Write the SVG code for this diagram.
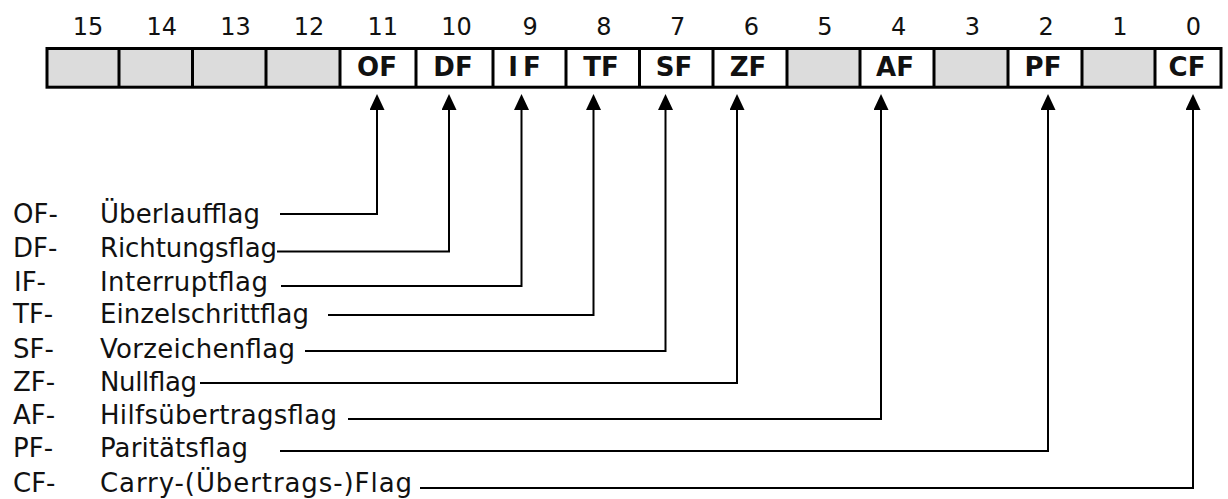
<svg xmlns="http://www.w3.org/2000/svg" width="1228" height="499" viewBox="0 0 1228 499">
<style>
.num{font-family:"DejaVu Sans",Verdana,sans-serif;font-size:24px;fill:#111;text-anchor:middle}
.flag{font-family:"DejaVu Sans",Verdana,sans-serif;font-size:26px;font-weight:bold;fill:#111;text-anchor:middle}
.pre{font-family:"DejaVu Sans",Verdana,sans-serif;font-size:26px;fill:#111}
.desc{font-family:"DejaVu Sans",Verdana,sans-serif;font-size:26px;fill:#111}
.res{fill:#dcdcdc}
.set{fill:#ffffff}
.div{stroke:#000;stroke-width:3}
.con{fill:none;stroke:#000;stroke-width:2}
</style>
<defs>
<marker id="ah" viewBox="0 0 16 15" refX="0" refY="7.5" markerWidth="16" markerHeight="15" markerUnits="userSpaceOnUse" orient="auto">
<path d="M0,0 L16,7.5 L0,15 z" fill="#000"/>
</marker>
</defs>
<rect width="1228" height="499" fill="#fff"/>
<g id="bitnumbers">
<text class="num" x="88" y="35">15</text>
<text class="num" x="161.7" y="35">14</text>
<text class="num" x="235.4" y="35">13</text>
<text class="num" x="309.1" y="35">12</text>
<text class="num" x="382.8" y="35">11</text>
<text class="num" x="456.5" y="35">10</text>
<text class="num" x="530.2" y="35">9</text>
<text class="num" x="603.9" y="35">8</text>
<text class="num" x="677.6" y="35">7</text>
<text class="num" x="751.3" y="35">6</text>
<text class="num" x="825" y="35">5</text>
<text class="num" x="898.7" y="35">4</text>
<text class="num" x="972.4" y="35">3</text>
<text class="num" x="1046.1" y="35">2</text>
<text class="num" x="1119.8" y="35">1</text>
<text class="num" x="1193.5" y="35">0</text>
</g>
<g id="register">
<g id="bit15"><rect class="res" x="47" y="48.5" width="72" height="38.7"/></g>
<g id="bit14"><rect class="res" x="119" y="48.5" width="73.5" height="38.7"/></g>
<g id="bit13"><rect class="res" x="192.5" y="48.5" width="73.5" height="38.7"/></g>
<g id="bit12"><rect class="res" x="266" y="48.5" width="74" height="38.7"/></g>
<g id="bit11"><rect class="set" x="340" y="48.5" width="76" height="38.7"/><text class="flag" x="377" y="75.5">OF</text></g>
<g id="bit10"><rect class="set" x="416" y="48.5" width="77" height="38.7"/><text class="flag" x="453" y="75.5">DF</text></g>
<g id="bit9"><rect class="set" x="493" y="48.5" width="73" height="38.7"/><text class="flag" x="527" y="75.5" style="letter-spacing:5px">IF</text></g>
<g id="bit8"><rect class="set" x="566" y="48.5" width="73.5" height="38.7"/><text class="flag" x="601" y="75.5">TF</text></g>
<g id="bit7"><rect class="set" x="639.5" y="48.5" width="73.5" height="38.7"/><text class="flag" x="674" y="75.5">SF</text></g>
<g id="bit6"><rect class="set" x="713" y="48.5" width="74" height="38.7"/><text class="flag" x="748" y="75.5">ZF</text></g>
<g id="bit5"><rect class="res" x="787" y="48.5" width="73" height="38.7"/></g>
<g id="bit4"><rect class="set" x="860" y="48.5" width="74" height="38.7"/><text class="flag" x="895" y="75.5">AF</text></g>
<g id="bit3"><rect class="res" x="934" y="48.5" width="74" height="38.7"/></g>
<g id="bit2"><rect class="set" x="1008" y="48.5" width="74" height="38.7"/><text class="flag" x="1043" y="75.5">PF</text></g>
<g id="bit1"><rect class="res" x="1082" y="48.5" width="73" height="38.7"/></g>
<g id="bit0"><rect class="set" x="1155" y="48.5" width="66" height="38.7"/><text class="flag" x="1187" y="75.5">CF</text></g>
<rect x="47" y="48.5" width="1174" height="38.7" fill="none" stroke="#000" stroke-width="3"/>
<path class="div" d="M119,48.5V87.2M192.5,48.5V87.2M266,48.5V87.2M340,48.5V87.2M416,48.5V87.2M493,48.5V87.2M566,48.5V87.2M639.5,48.5V87.2M713,48.5V87.2M787,48.5V87.2M860,48.5V87.2M934,48.5V87.2M1008,48.5V87.2M1082,48.5V87.2M1155,48.5V87.2"/>
</g>
<g id="connectors">
<polyline class="con" points="280,214 377,214 377,110" marker-end="url(#ah)"/>
<polyline class="con" points="277,251.5 449,251.5 449,110" marker-end="url(#ah)"/>
<polyline class="con" points="281,286 521.5,286 521.5,110" marker-end="url(#ah)"/>
<polyline class="con" points="328,315 593.5,315 593.5,110" marker-end="url(#ah)"/>
<polyline class="con" points="305,351 665.5,351 665.5,110" marker-end="url(#ah)"/>
<polyline class="con" points="200,383 737,383 737,110" marker-end="url(#ah)"/>
<polyline class="con" points="348,419 881,419 881,110" marker-end="url(#ah)"/>
<polyline class="con" points="280,451 1048,451 1048,110" marker-end="url(#ah)"/>
<polyline class="con" points="420,488 1193,488 1193,110" marker-end="url(#ah)"/>
</g>
<g id="legend">
<g id="leg-OF"><text class="pre" x="13" y="223">OF-</text><text class="desc" x="100" y="223" textLength="160">Überlaufflag</text></g>
<g id="leg-DF"><text class="pre" x="13" y="257">DF-</text><text class="desc" x="100" y="257" textLength="177">Richtungsflag</text></g>
<g id="leg-IF"><text class="pre" x="14" y="291">IF-</text><text class="desc" x="100" y="291" textLength="168">Interruptflag</text></g>
<g id="leg-TF"><text class="pre" x="13" y="323">TF-</text><text class="desc" x="100" y="323" textLength="209">Einzelschrittflag</text></g>
<g id="leg-SF"><text class="pre" x="13" y="358">SF-</text><text class="desc" x="100" y="358" textLength="195">Vorzeichenflag</text></g>
<g id="leg-ZF"><text class="pre" x="13" y="391">ZF-</text><text class="desc" x="100" y="391" textLength="97">Nullflag</text></g>
<g id="leg-AF"><text class="pre" x="13" y="424">AF-</text><text class="desc" x="100" y="424" textLength="237">Hilfsübertragsflag</text></g>
<g id="leg-PF"><text class="pre" x="13" y="457">PF-</text><text class="desc" x="100" y="457" textLength="148">Paritätsflag</text></g>
<g id="leg-CF"><text class="pre" x="13" y="492">CF-</text><text class="desc" x="100" y="492" textLength="312">Carry-(Übertrags-)Flag</text></g>
</g>
</svg>
